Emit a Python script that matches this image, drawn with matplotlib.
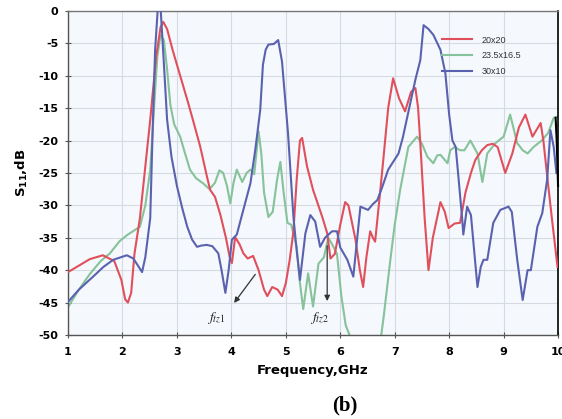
import matplotlib
matplotlib.use("Agg")
import matplotlib.pyplot as plt

# ---- data: return loss S11 (dB) versus frequency (GHz) for three patch sizes ----
red_f = [1.0, 1.2, 1.4, 1.64, 1.85, 1.98, 2.05, 2.1, 2.16, 2.22, 2.32, 2.42, 2.51, 2.62, 2.7,
         2.75, 2.82, 2.92, 3.06, 3.2, 3.3, 3.43, 3.55, 3.61, 3.7, 3.8, 3.9, 3.97, 4.01, 4.07,
         4.15, 4.22, 4.3, 4.4, 4.5, 4.6, 4.66, 4.75, 4.85, 4.93, 5.0, 5.07, 5.14, 5.2, 5.26,
         5.3, 5.39, 5.5, 5.67, 5.76, 5.82, 5.9, 6.0, 6.09, 6.15, 6.28, 6.36, 6.42, 6.48, 6.55,
         6.6, 6.64, 6.72, 6.79, 6.88, 6.97, 7.08, 7.19, 7.3, 7.38, 7.43, 7.47, 7.55, 7.62, 7.7,
         7.84, 7.92, 7.99, 8.1, 8.2, 8.3, 8.4, 8.48, 8.6, 8.7, 8.8, 8.89, 9.03, 9.16, 9.28,
         9.4, 9.53, 9.68, 9.73, 9.82, 9.9, 9.99]
red_db = [-40.3, -39.3, -38.3, -37.7, -38.6, -41.5, -44.5, -45.0, -43.5, -37.5, -32, -24, -16.8, -7, -2.5,
          -1.7, -2.8, -6, -10, -14, -17, -21, -25.5, -27.6, -28.7, -31.5, -35, -38, -38.9, -34.9,
          -36, -37.4, -38.2, -37.8, -40, -43, -44, -42.6, -43, -44, -42, -38.5, -34, -26, -20,
          -19.6, -24, -27.6, -31.8, -34.3, -38.2, -37.5, -33, -29.5, -30, -35.3, -40, -42.6, -38, -34,
          -35, -35.6, -29, -23, -15, -10.4, -13.5, -15.5, -12.5, -11.9, -15, -20.4, -32, -40, -35,
          -29.5, -31, -33.5, -32.8, -32.7, -28, -25, -23, -21.5, -20.7, -20.5, -21, -25, -22, -18,
          -16, -19.4, -17.3, -20, -27, -33, -39.5]

green_f = [1.0, 1.2, 1.4, 1.6, 1.77, 1.95, 2.1, 2.32, 2.42, 2.51, 2.58, 2.64, 2.7, 2.76, 2.82,
           2.88, 2.95, 3.06, 3.15, 3.24, 3.35, 3.48, 3.6, 3.7, 3.78, 3.85, 3.92, 3.98, 4.04, 4.1,
           4.2, 4.28, 4.35, 4.42, 4.5, 4.55, 4.6, 4.68, 4.76, 4.84, 4.9, 4.96, 5.03, 5.1, 5.2,
           5.26, 5.32, 5.41, 5.5, 5.6, 5.7, 5.78, 5.85, 5.94, 6.02, 6.1, 6.18, 6.5, 6.75, 6.8,
           6.92, 7.0, 7.1, 7.25, 7.41, 7.5, 7.6, 7.71, 7.78, 7.84, 7.97, 8.02, 8.1, 8.2, 8.28,
           8.39, 8.52, 8.61, 8.7, 8.85, 9.0, 9.12, 9.25, 9.35, 9.44, 9.55, 9.7, 9.82, 9.92, 10.0]
green_db = [-45.7, -43, -40.6, -38.6, -37.4, -35.5, -34.5, -33.3, -30, -24.5, -15, -7, -3.7, -4.5, -9,
            -14.5, -17.5, -19.4, -22, -24.5, -25.8, -26.6, -27.5, -26.5, -24.6, -25, -27, -29.7, -26.5, -24.5,
            -26.4, -25, -24.5, -25.2, -18.6, -22, -28, -31.8, -31, -26, -23.3, -28, -32.7, -33, -36.4,
            -42, -46, -40.5, -45.6, -39, -38, -35, -36, -37.5, -44, -48.5, -50.2, -50.2, -50.2, -47,
            -38.4, -33, -27.6, -21, -19.4, -20.5, -22.5, -23.5, -22.3, -22.2, -23.5, -21.5, -21, -21.5, -21.5,
            -20, -22, -26.4, -22, -20.4, -19.4, -16, -20.4, -21.5, -22, -21, -20, -18.8, -16.5, -16.3]

blue_f = [1.0, 1.2, 1.46, 1.65, 1.83, 2.08, 2.2, 2.3, 2.36, 2.42, 2.51, 2.56, 2.6, 2.65, 2.7,
          2.76, 2.82, 2.9, 3.0, 3.1, 3.19, 3.28, 3.37, 3.45, 3.55, 3.65, 3.76, 3.82, 3.89, 3.95,
          4.01, 4.1, 4.22, 4.35, 4.44, 4.53, 4.58, 4.63, 4.68, 4.78, 4.86, 4.93, 5.04, 5.14, 5.2,
          5.26, 5.36, 5.45, 5.54, 5.63, 5.72, 5.85, 5.94, 6.0, 6.13, 6.24, 6.3, 6.37, 6.51, 6.6,
          6.68, 6.77, 6.88, 7.07, 7.15, 7.23, 7.38, 7.47, 7.53, 7.62, 7.71, 7.84, 7.93, 8.0, 8.06,
          8.12, 8.17, 8.24, 8.26, 8.33, 8.4, 8.47, 8.52, 8.58, 8.63, 8.7, 8.81, 8.94, 9.09, 9.15,
          9.25, 9.35, 9.44, 9.5, 9.62, 9.71, 9.8, 9.86, 9.92, 9.97]
blue_db = [-44.9, -43, -41, -39.5, -38.4, -37.7, -38.2, -39.5, -40.3, -38, -32, -16.8, -6, 0.5, 0.5,
           -8, -16.8, -22.5, -27, -30.5, -33.3, -35.3, -36.4, -36.2, -36.1, -36.3, -37.4, -40, -43.5, -40,
           -35.3, -34.5, -30.7, -26.6, -21.4, -15.3, -8.3, -6, -5.2, -5.1, -4.5, -7.8, -18.8, -31.8, -37,
           -41.5, -34.3, -31.5, -32.5, -36.4, -35, -34, -34, -36.5, -38.4, -41, -36, -30.2, -30.7, -29.8,
           -29.2, -27.2, -24.5, -22, -19.5, -16.4, -10.6, -7.6, -2.2, -2.8, -3.7, -6, -9.6, -16, -20,
           -21, -25.6, -32.2, -34.5, -30.2, -31.5, -38, -42.6, -39.5, -38.4, -38.4, -32.7, -30.7, -30.2, -31,
           -38.4, -44.6, -40, -40, -33.3, -31.2, -26, -18.4, -21, -25]

# short dark trace entering at the right edge
edge_f = [9.955, 9.975, 10.0]
edge_db = [-16.5, -20.0, -27.0]

labels = ["20x20", "23.5x16.5", "30x10"]
x_ticks = [1, 2, 3, 4, 5, 6, 7, 8, 9, 10]
y_ticks = [0, -5, -10, -15, -20, -25, -30, -35, -40, -45, -50]

# ---- figure ----
fig = plt.figure(figsize=(5.62, 4.19), dpi=100)
ax = fig.add_axes([0.121, 0.2005, 0.872, 0.7735])
ax.set_facecolor("#f5f8fc")

c_red, c_green, c_blue = "#e0505c", "#86c29a", "#5a62b0"
ax.plot(red_f, red_db, color=c_red, lw=1.5, label=labels[0], zorder=3)
ax.plot(green_f, green_db, color=c_green, lw=1.5, label=labels[1], zorder=2)
ax.plot(blue_f, blue_db, color=c_blue, lw=1.5, label=labels[2], zorder=4)
ax.plot(edge_f, edge_db, color="black", lw=1.5, zorder=5, clip_on=False)

ax.set_xlim(1, 10)
ax.set_ylim(-50, 0)
ax.set_xticks(x_ticks)
ax.set_yticks(y_ticks)
ax.set_xticklabels([str(t) for t in x_ticks], fontsize=8, fontweight="bold")
ax.set_yticklabels([str(t) for t in y_ticks], fontsize=8, fontweight="bold")
ax.tick_params(axis="both", direction="inout", length=4, width=0.8, color="#555555", pad=5)
ax.tick_params(axis="x", pad=7)
ax.grid(True, color="#d6dbe3", lw=0.8)
ax.set_axisbelow(True)

for side, col in [("left", "#555555"), ("bottom", "#555555"), ("top", "#777777"), ("right", "black")]:
    ax.spines[side].set_color(col)
    ax.spines[side].set_linewidth(1.2 if side == "right" else 1.0)

ax.set_xlabel("Frequency,GHz", fontsize=9.5, fontweight="bold", labelpad=5)
ax.set_ylabel(r"$\mathbf{S_{11}}$,dB", fontsize=9.5, fontweight="bold", labelpad=6)

leg = ax.legend(loc="upper left", bbox_to_anchor=(0.755, 0.935), frameon=False,
                prop={"family": "Liberation Sans", "size": 6.5}, handlelength=3.4,
                handletextpad=1.0, labelspacing=0.75, borderaxespad=0)
for t in leg.get_texts():
    t.set_color("#333333")

# transmission-zero markers
ax.annotate("", xy=(4.02, -45.4), xytext=(4.47, -40.3),
            arrowprops=dict(arrowstyle="-|>", color="#333333", lw=0.9, mutation_scale=8))
ax.text(3.72, -47.4, r"$f_{tz1}$", fontsize=10, math_fontfamily="stix",
        ha="center", va="center", color="#222222")
ax.annotate("", xy=(5.76, -45.2), xytext=(5.76, -35.8),
            arrowprops=dict(arrowstyle="-|>", color="#333333", lw=0.9, mutation_scale=8))
ax.text(5.62, -47.4, r"$f_{tz2}$", fontsize=10, math_fontfamily="stix",
        ha="center", va="center", color="#222222")

fig.text(345 / 562, 1 - 405 / 419, "(b)", family="Liberation Serif", fontweight="bold",
         fontsize=15, ha="center", va="center")

fig.savefig("out.png", dpi=100)
